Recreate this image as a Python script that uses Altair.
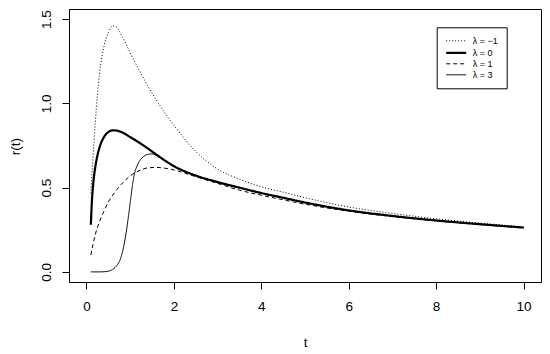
import altair as alt
import pandas as pd

labels = ["λ = −1", "λ = 0", "λ = 1", "λ = 3"]

t_m1 = [0.1, 0.15, 0.2, 0.25, 0.3, 0.35, 0.4, 0.5, 0.6, 0.7, 0.8, 0.9, 1.0, 1.2, 1.4, 1.6, 1.8, 2.0,
        2.5, 3.0, 3.5, 4.0, 4.5, 5.0, 6.0, 7.0, 8.0, 9.0, 10.0]
r_m1 = [0.465, 0.68, 0.88, 1.05, 1.18, 1.27, 1.34, 1.42, 1.46, 1.45, 1.405, 1.355, 1.30, 1.20, 1.105, 1.02, 0.94, 0.87,
        0.715, 0.61, 0.55, 0.505, 0.473, 0.44, 0.385, 0.347, 0.315, 0.29, 0.267]

t_0 = [0.1, 0.12, 0.15, 0.2, 0.25, 0.3, 0.4, 0.5, 0.6, 0.7, 0.8, 1.0, 1.2, 1.4, 1.6, 1.8, 2.0,
       2.5, 3.0, 3.5, 4.0, 4.5, 5.0, 6.0, 7.0, 8.0, 9.0, 10.0]
r_0 = [0.28, 0.40, 0.51, 0.62, 0.69, 0.74, 0.80, 0.83, 0.84, 0.838, 0.83, 0.80, 0.768, 0.733, 0.696, 0.66, 0.628,
       0.572, 0.533, 0.50, 0.468, 0.44, 0.412, 0.365, 0.332, 0.305, 0.283, 0.263]

t_1 = [0.1, 0.15, 0.2, 0.3, 0.4, 0.5, 0.6, 0.7, 0.8, 1.0, 1.2, 1.4, 1.6, 1.8, 2.0,
       2.5, 3.0, 3.5, 4.0, 4.5, 5.0, 6.0, 7.0, 8.0, 9.0, 10.0]
r_1 = [0.10, 0.165, 0.22, 0.30, 0.36, 0.415, 0.455, 0.49, 0.52, 0.57, 0.60, 0.617, 0.62, 0.615, 0.605,
       0.565, 0.525, 0.485, 0.455, 0.428, 0.402, 0.36, 0.328, 0.303, 0.281, 0.262]

t_3 = [0.1, 0.3, 0.4, 0.5, 0.6, 0.65, 0.7, 0.75, 0.8, 0.85, 0.9, 0.95, 1.0, 1.05, 1.1, 1.15, 1.2, 1.3, 1.4,
       1.5, 1.6, 1.7, 1.8, 2.0, 2.5, 3.0, 3.5, 4.0, 4.5, 5.0, 6.0, 7.0, 8.0, 9.0, 10.0]
r_3 = [0.0, 0.0, 0.001, 0.004, 0.015, 0.025, 0.04, 0.06, 0.095, 0.15, 0.22, 0.31, 0.41, 0.51, 0.585, 0.625,
       0.652, 0.683, 0.697, 0.70, 0.69, 0.674, 0.657, 0.625, 0.57, 0.531, 0.498, 0.467, 0.439, 0.411,
       0.364, 0.332, 0.305, 0.283, 0.263]

x_ticks = [0, 2, 4, 6, 8, 10]
y_ticks = [0.0, 0.5, 1.0, 1.5]

rows = []
for lab, ts, rs in zip(labels, [t_m1, t_0, t_1, t_3], [r_m1, r_0, r_1, r_3]):
    for t, r in zip(ts, rs):
        rows.append({"t": t, "r": r, "lam": lab})
df = pd.DataFrame(rows)

FONT = "Liberation Sans"

legend = alt.Legend(
    orient="none", legendX=367.7, legendY=18.3, title=None,
    symbolType="M-1,0L3,0", symbolSize=100, symbolStrokeColor="black", symbolFillColor="transparent",
    labelFont=FONT, labelFontSize=9, labelColor="black", labelOffset=15,
    strokeColor="black", fillColor="white", padding=8, rowPadding=-2,
    cornerRadius=0,
)

chart = alt.Chart(df).mark_line(interpolate="monotone", color="black").encode(
    x=alt.X("t:Q", scale=alt.Scale(domain=[-0.4, 10.4], nice=False, zero=False),
            axis=alt.Axis(values=x_ticks, format="d", title="t", domain=False, grid=False,
                          tickSize=7, tickColor="black", tickWidth=1,
                          labelFont=FONT, labelFontSize=13.5, labelColor="black", labelPadding=10,
                          titleFont=FONT, titleFontSize=13.5, titleColor="black", titleFontWeight="normal",
                          titleY=64, titleBaseline="alphabetic")),
    y=alt.Y("r:Q", scale=alt.Scale(domain=[-0.06, 1.56], nice=False, zero=False),
            axis=alt.Axis(values=y_ticks, format=".1f", title="r(t)", domain=False, grid=False,
                          tickSize=7, tickColor="black", tickWidth=1,
                          labelFont=FONT, labelFontSize=13.5, labelColor="black", labelPadding=12,
                          labelAngle=270, labelAlign="center", labelBaseline="alphabetic",
                          titleFont=FONT, titleFontSize=13.5, titleColor="black", titleFontWeight="normal",
                          titleX=-54, titleY=137, titleAngle=270, titleAlign="center", titleBaseline="middle")),
    strokeDash=alt.StrokeDash("lam:N", scale=alt.Scale(domain=labels, range=[[1, 2], [1, 0], [4, 3], [1, 0]]),
                              legend=legend),
    strokeWidth=alt.StrokeWidth("lam:N", scale=alt.Scale(type="ordinal", domain=labels, range=[1, 2.2, 1, 1]),
                                legend=legend),
).properties(
    width=472, height=273,
    autosize=alt.AutoSizeParams(type="none"),
    padding={"left": 61, "top": 1, "right": 1, "bottom": 70},
).configure_view(stroke="black", strokeWidth=1)

chart.save("out.html", embed_options={"renderer": "svg", "actions": False})
